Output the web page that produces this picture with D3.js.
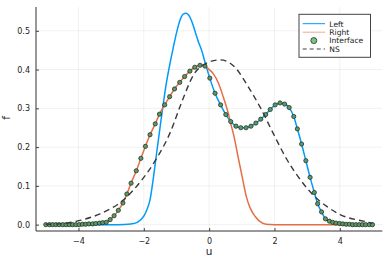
<!DOCTYPE html>
<html><head><meta charset="utf-8">
<script src="https://cdn.jsdelivr.net/npm/d3@7"></script>
<style>body{margin:0;background:#fff}svg{display:block}text{font-family:"DejaVu Sans",sans-serif}</style>
</head><body><svg id="c" width="390" height="260"></svg>
<script>
// Interface markers (u, f)
const interfaceU = [-5.0,-4.89,-4.79,-4.69,-4.59,-4.48,-4.38,-4.28,-4.18,-4.08,-3.98,-3.88,-3.78,-3.68,-3.57,-3.47,-3.36,-3.26,-3.15,-3.03,-2.91,-2.78,-2.64,-2.52,-2.39,-2.23,-2.09,-1.95,-1.81,-1.65,-1.52,-1.36,-1.21,-1.06,-0.90,-0.75,-0.59,-0.44,-0.28,-0.13,0.02,0.18,0.35,0.51,0.66,0.82,0.97,1.13,1.28,1.43,1.58,1.73,1.87,2.02,2.17,2.31,2.45,2.59,2.70,2.83,2.96,3.09,3.22,3.32,3.44,3.56,3.68,3.78,3.88,3.99,4.09,4.19,4.29,4.39,4.49,4.59,4.69,4.79,4.90,5.0];
const interfaceF = [0,0,0,0,0,0,0,0,0,0,0,0.001,0.001,0.002,0.002,0.003,0.004,0.005,0.006,0.013,0.023,0.037,0.056,0.079,0.107,0.139,0.171,0.202,0.232,0.260,0.285,0.309,0.330,0.350,0.367,0.382,0.396,0.406,0.411,0.409,0.378,0.339,0.309,0.284,0.266,0.254,0.250,0.250,0.254,0.262,0.272,0.284,0.297,0.309,0.314,0.311,0.302,0.279,0.247,0.208,0.165,0.122,0.083,0.054,0.033,0.015,0.009,0.006,0.004,0.003,0.002,0.001,0.001,0,0,0,0,0,0,0];
// Left solution before it joins the interface
const leftHeadU = [-5,-3.0,-2.6,-2.4,-2.2,-2.0,-1.9,-1.81,-1.7,-1.6,-1.5,-1.4,-1.3,-1.2,-1.1,-0.99,-0.89,-0.79,-0.71,-0.63,-0.53,-0.43,-0.33,-0.22,-0.12];
const leftHeadF = [0,0,0.0005,0.0015,0.006,0.022,0.040,0.064,0.125,0.190,0.253,0.314,0.370,0.415,0.456,0.498,0.528,0.543,0.545,0.541,0.524,0.498,0.472,0.447,0.417];
// Right solution after it leaves the interface
const rightTailU = [0.0,0.13,0.28,0.43,0.58,0.67,0.77,0.89,1.01,1.13,1.25,1.41,1.56,1.74,2.0,5.0];
const rightTailF = [0.400,0.389,0.366,0.330,0.289,0.258,0.224,0.173,0.124,0.075,0.044,0.021,0.008,0.001,0,0];
// NS
const nsU = [-5,-4.46,-3.95,-3.34,-2.62,-2.11,-1.60,-1.19,-0.84,-0.48,-0.12,0.34,0.80,1.15,1.56,1.97,2.38,2.79,3.19,3.60,4.01,4.72,5.0];
const nsF = [0.001,0.003,0.011,0.028,0.064,0.110,0.172,0.238,0.316,0.386,0.415,0.425,0.405,0.362,0.303,0.234,0.168,0.116,0.076,0.047,0.026,0.009,0.004];
const xTicks = [-4,-2,0,2,4];
const yTicks = [0,0.1,0.2,0.3,0.4,0.5];
const legendLabels = ["Left","Right","Interface","NS"];

const svg = d3.select("#c");
const L=36, R=382.3, T=7, B=231;
const x = d3.scaleLinear().domain([-5.3,5.3]).range([L,R]);
const y = d3.scaleLinear().domain([-0.01635,0.5614]).range([B,T]);

const ifacePts = interfaceU.map((u,i)=>[u,interfaceF[i]]);
const leftPts = leftHeadU.map((u,i)=>[u,leftHeadF[i]]).concat(ifacePts.filter(p=>p[0]>0));
const rightPts = ifacePts.filter(p=>p[0]<-0.05).concat(rightTailU.map((u,i)=>[u,rightTailF[i]]));
const nsPts = nsU.map((u,i)=>[u,nsF[i]]);

// grid
const g = svg.append("g");
g.selectAll(".gx").data(xTicks).join("line").attr("x1",d=>x(d)).attr("x2",d=>x(d)).attr("y1",T).attr("y2",B).attr("stroke","#000").attr("stroke-opacity",0.1).attr("stroke-width",0.6);
g.selectAll(".gy").data(yTicks).join("line").attr("y1",d=>y(d)).attr("y2",d=>y(d)).attr("x1",L).attr("x2",R).attr("stroke","#000").attr("stroke-opacity",0.1).attr("stroke-width",0.6);

// axes
const xa = svg.append("g").attr("transform",`translate(0,${B})`).call(d3.axisBottom(x).tickValues(xTicks).tickSize(-3).tickPadding(7).tickFormat(d=>d<0?"\u2212"+Math.abs(d):String(d)));
const ya = svg.append("g").attr("transform",`translate(${L},0)`).call(d3.axisLeft(y).tickValues(yTicks).tickSize(-3).tickPadding(6).tickFormat(d3.format(".1f")));
[xa,ya].forEach(a=>{a.select(".domain").remove();a.selectAll("text").attr("font-size",8).attr("fill","#222").attr("font-family","DejaVu Sans");a.selectAll("line").attr("stroke","#444");});
svg.append("line").attr("x1",L).attr("x2",R).attr("y1",B).attr("y2",B).attr("stroke","#333").attr("stroke-width",1);
svg.append("line").attr("x1",L).attr("x2",L).attr("y1",T).attr("y2",B).attr("stroke","#333").attr("stroke-width",1);

svg.append("text").attr("x",209).attr("y",255).attr("text-anchor","middle").attr("font-size",10.5).attr("fill","#222").text("u");
svg.append("text").attr("transform","translate(10,118) rotate(-90)").attr("text-anchor","middle").attr("font-size",10.5).attr("fill","#222").text("f");

const line = d3.line().x(d=>x(d[0])).y(d=>y(d[1])).curve(d3.curveMonotoneX);
svg.append("clipPath").attr("id","cp").append("rect").attr("x",L).attr("y",T).attr("width",R-L).attr("height",B-T);
const pg = svg.append("g").attr("clip-path","url(#cp)");
pg.append("path").datum(leftPts).attr("d",line).attr("fill","none").attr("stroke","#009AFA").attr("stroke-width",1.5);
pg.append("path").datum(rightPts).attr("d",line).attr("fill","none").attr("stroke","#E36F47").attr("stroke-width",1.5);
pg.selectAll("circle").data(ifacePts).join("circle").attr("cx",d=>x(d[0])).attr("cy",d=>y(d[1])).attr("r",2.1)
  .attr("fill","#5f9868").attr("stroke","#1f3323").attr("stroke-width",0.8);
pg.append("path").datum(nsPts).attr("d",line).attr("fill","none").attr("stroke","#3a3a3a").attr("stroke-width",1.4).attr("stroke-dasharray","6,4");

// legend
const lg = svg.append("g");
lg.append("rect").attr("x",299).attr("y",14.3).attr("width",71.5).attr("height",43).attr("fill","#fff").attr("stroke","#444").attr("stroke-width",1);
const ly = [23.7,32.2,40.6,49];
lg.append("line").attr("x1",302.7).attr("x2",325).attr("y1",ly[0]).attr("y2",ly[0]).attr("stroke","#009AFA").attr("stroke-width",1);
lg.append("line").attr("x1",302.7).attr("x2",325).attr("y1",ly[1]).attr("y2",ly[1]).attr("stroke","#E36F47").attr("stroke-opacity",0.6).attr("stroke-width",1);
lg.append("circle").attr("cx",313.8).attr("cy",ly[2]).attr("r",3).attr("fill","#7cc285").attr("stroke","#1f3323").attr("stroke-width",0.8);
lg.append("line").attr("x1",302.7).attr("x2",325).attr("y1",ly[3]).attr("y2",ly[3]).attr("stroke","#404040").attr("stroke-width",1).attr("stroke-dasharray","4,3");
lg.selectAll("text").data(legendLabels).join("text").attr("x",329.3).attr("y",(d,i)=>ly[i]+2.8).attr("font-size",7.6).attr("fill","#222").text(d=>d);
</script></body></html>
